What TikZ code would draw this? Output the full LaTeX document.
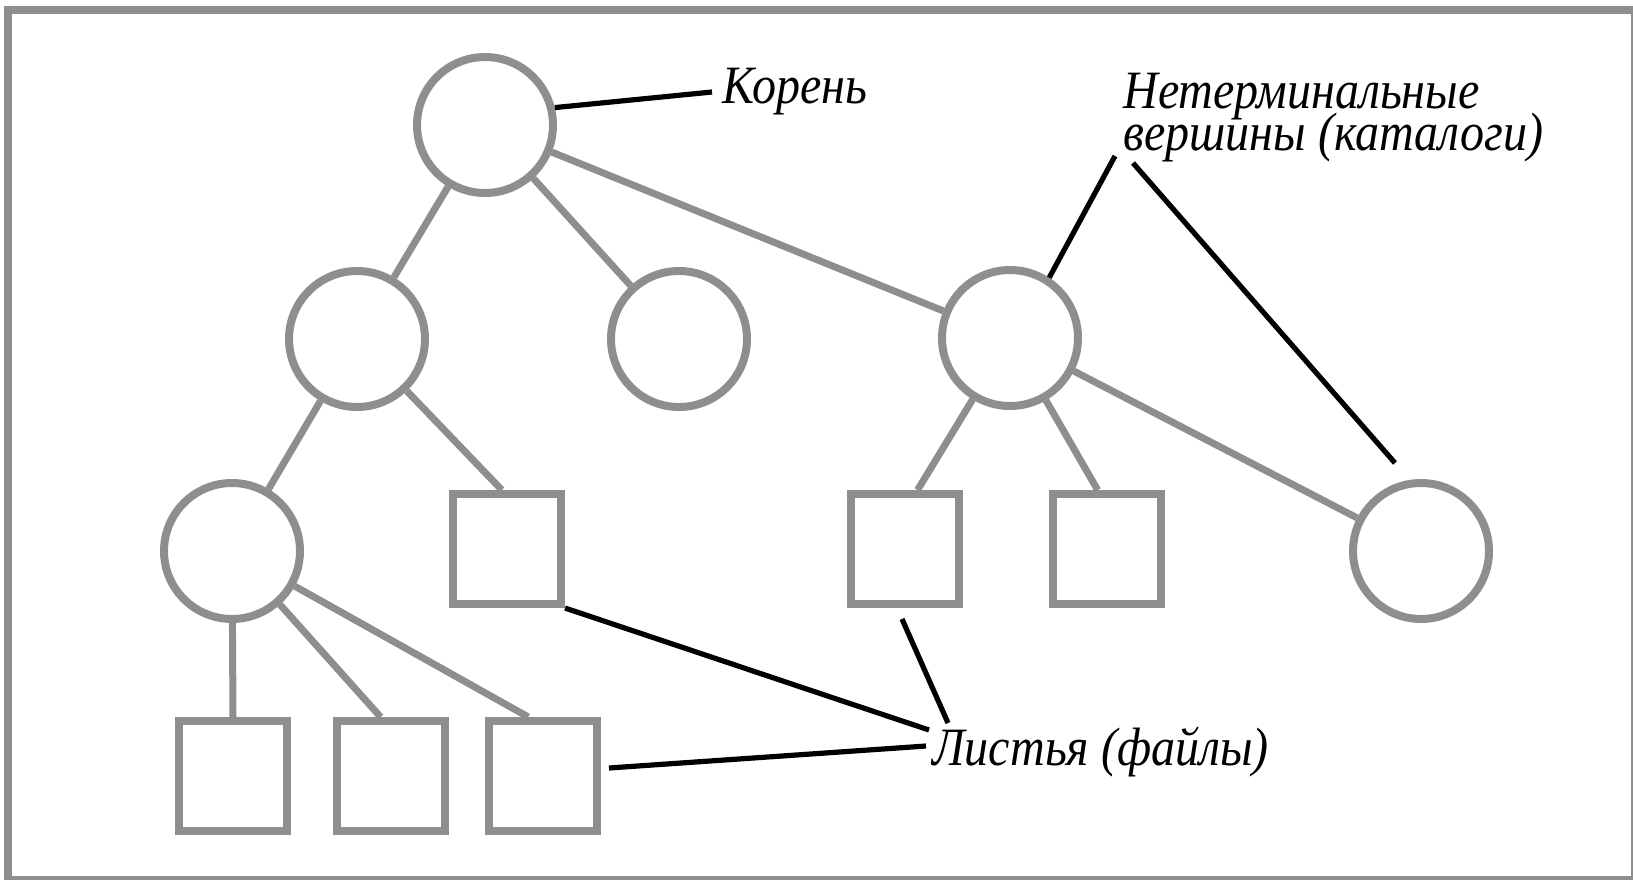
\documentclass[tikz,border=0pt]{standalone}
\usepackage{fontspec}
\setmainfont{Liberation Serif}
\newfontfamily\lblfont[FakeStretch=0.89]{Liberation Serif}
\newcommand\tightlines{\lineskiplimit=-30pt\relax}
\usetikzlibrary{calc}
\definecolor{treegray}{RGB}{142,142,142}

\begin{document}
\begin{tikzpicture}[x=0.5pt,y=-0.5pt,
    dir/.style={circle,draw=treegray,line width=4pt,minimum size=68pt,inner sep=0pt},
    leaf/.style={rectangle,draw=treegray,line width=4pt,minimum width=54pt,minimum height=55pt,inner sep=0pt},
    edge/.style={treegray,line width=3.5pt},
    note/.style={black,line width=2.6pt},
    lbl/.style={font=\lblfont\itshape\fontsize{27}{21}\selectfont\tightlines,inner sep=0pt,anchor=base west}]
  \useasboundingbox (0,0) rectangle (1633,879);
  \draw[treegray,line width=4pt] (8,10) rectangle (1635,880);

  % catalogues
  \node[dir] (root) at (485,125) {};
  \node[dir] (A) at (357,339) {};
  \node[dir] (B) at (679,339) {};
  \node[dir] (C) at (1010,338) {};
  \node[dir] (D) at (232,551) {};
  \node[dir] (H) at (1421,551) {};
  % files
  \node[leaf] (E) at (507,549) {};
  \node[leaf] (F) at (905,549) {};
  \node[leaf] (G) at (1107,549) {};
  \node[leaf] (sq1) at (233,776) {};
  \node[leaf] (sq2) at (391,776) {};
  \node[leaf] (sq3) at (543,776) {};

  \draw[edge] (root) -- (A);
  \draw[edge] (root) -- (B);
  \draw[edge] (root) -- (C);
  \draw[edge] (A) -- (D);
  \draw[edge] (A) -- (E.95);
  \draw[edge] (C) -- (F.78);
  \draw[edge] (C) -- (G.99);
  \draw[edge] (C) -- (H);
  \draw[edge] (D) -- (sq1.north);
  \draw[edge] (D) -- (sq2.100);
  \draw[edge] (D) -- (sq3.104);

  % labels
  \node[lbl] (kor) at (722,103) {Корень};
  \node[lbl,align=left,anchor=north west] (nt) at (1123,73) {Нетерминальные\\вершины (каталоги)};
  \node[lbl] (lst) at (932,765) {Листья (файлы)};

  \coordinate (k1) at (712,92);
  \coordinate (n1) at (1115,156);
  \coordinate (n2) at (1133,163);
  \coordinate (n3) at (1395,463);
  \coordinate (l1) at (929,730);
  \coordinate (l2) at (902,619);
  \coordinate (l3) at (948,723);
  \coordinate (l4) at (609,768);
  \coordinate (l5) at (926,746);

  \draw[note] (root.14) -- (k1);
  \draw[note] (C.57) -- (n1);
  \draw[note] (n2) -- (n3);
  \draw[note] (E.south east) -- (l1);
  \draw[note] (l2) -- (l3);
  \draw[note] (l4) -- (l5);
\end{tikzpicture}
\end{document}
